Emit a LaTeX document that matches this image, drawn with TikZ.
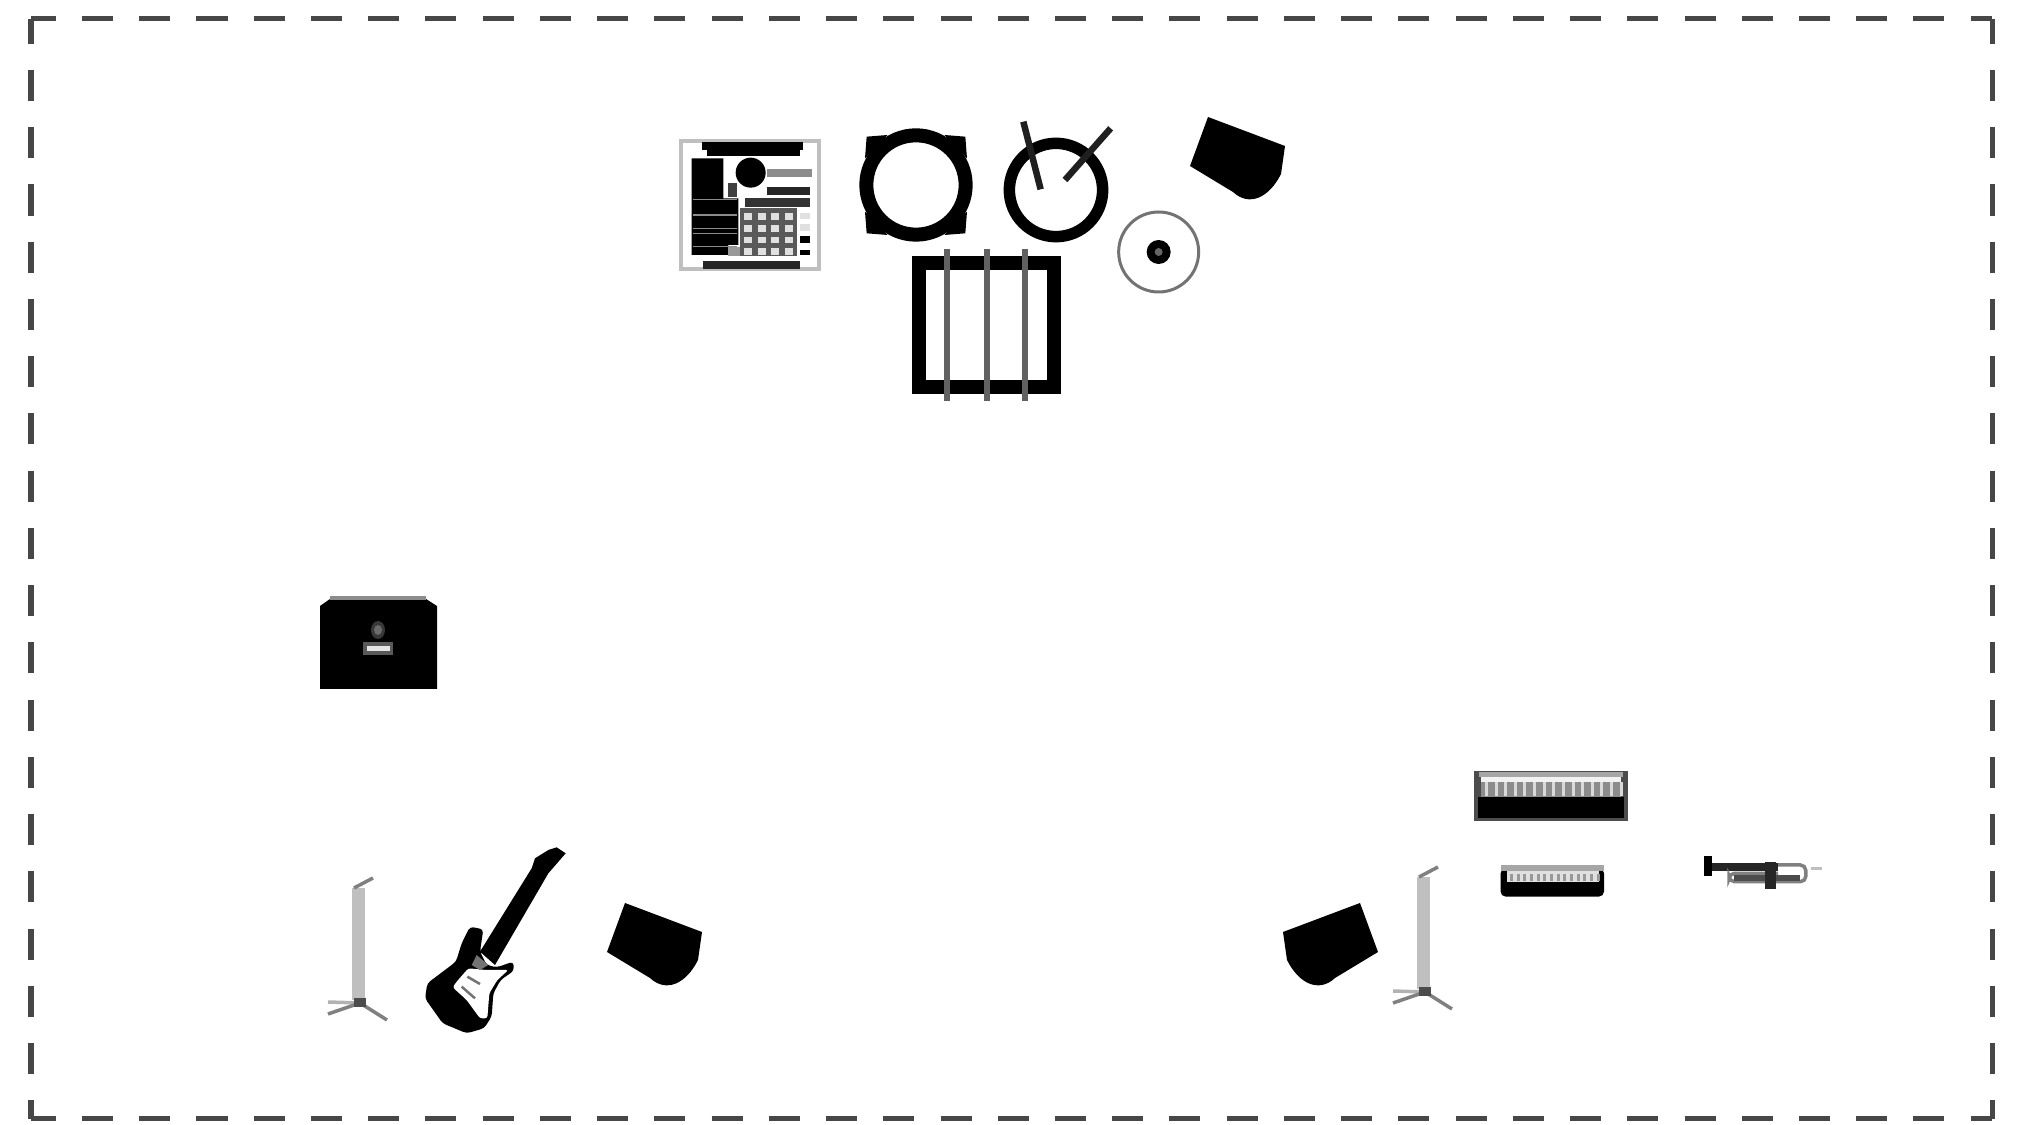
\documentclass[tikz,border=0pt]{standalone}
\tikzset{
	stageline/.style={line width=0.05cm, color=black!72, dash pattern=on 0.31cm off 0.262cm, dash phase=0.062cm},
	drumring/.style={draw=black, fill=white, line width=0.14cm},
	drumstick/.style={line width=0.065cm, color=black!88},
	keyslat/.style={line width=0.03cm},
	standleg/.style={line width=0.035cm, color=black!50},
	wedgebox/.style={fill=black}
}
\newcommand{\wedgepath}{(625,903) -- (702,932) -- (698,960) .. controls (686,984) and (666,993) .. (650,978) -- (607,952) -- cycle}
\begin{document}
\begin{tikzpicture}[x=0.01cm, y=-0.01cm]
	\useasboundingbox (0,0) rectangle (2020,1125);
	
	% Borde del escenario
	\coordinate (tl) at (31,19);
	\coordinate (tr) at (1992,19);
	\coordinate (bl) at (31,1119);
	\coordinate (br) at (1992,1119);
	\draw[stageline] (tl) -- (tr);
	\draw[stageline] (tl) -- (bl);
	\draw[stageline] (bl) -- (br);
	\draw[stageline] (tr) -- (br);
	
	% Sampler y bateria
	\begin{scope}[shift={(660,100)}, scale=1/3]
		\draw[fill=white, draw=black!25, line width=0.04cm] (64,122) rectangle (478,508);
		\fill[black] (125,125) rectangle (430,150);
		\fill[black] (140,150) rectangle (420,168);
		\fill[black!85] (130,482) rectangle (420,506);
		\fill[black] (95,175) -- (190,175) -- (190,295) -- (235,295) -- (235,435) -- (205,435) -- (205,465) -- (95,465) -- cycle;
		\foreach \py in {298,345,385,400,440}
			\draw[line width=0.012cm, color=black!45] (100,\py) -- (230,\py);
		\fill[black] (272,218) circle (45);
		\fill[black!45] (320,207) rectangle (455,230);
		\fill[black!85] (320,260) rectangle (450,285);
		\fill[black!80] (255,295) rectangle (450,322);
		\fill[black!75] (205,250) rectangle (232,292);
		\fill[black!65] (240,325) rectangle (412,468);
		\fill[black!40] (205,440) rectangle (240,468);
		\foreach \i in {0,...,3}
			\foreach \j in {0,...,3}
				\fill[black!12] ({252+\i*41},{340+\j*35}) rectangle ({276+\i*41},{360+\j*35});
		\fill[black!12] (420,340) rectangle (450,358);
		\fill[black!12] (420,372) rectangle (450,392);
		\fill[black] (420,408) rectangle (450,430);
		\fill[black] (420,450) rectangle (450,466);
		
		% Tom con herrajes
		\foreach \sx/\sy in {1/1,-1/1,1/-1,-1/-1}
			\fill[black, shift={(768,255)}] ({\sx*148},{\sy*145}) -- ({\sx*85},{\sy*150}) -- ({\sx*153},{\sy*80}) -- cycle;
		\draw[drumring] (768,255) circle (149);
		
		% Caja con baquetas
		\draw[drumring, line width=0.115cm] (1188,270) circle (140);
		\draw[drumstick] (1090,65) -- (1142,268);
		\draw[drumstick] (1352,85) -- (1215,240);
		
		% Bombo
		\draw[draw=black, fill=white, line width=0.14cm] (777,488) rectangle (1181,862);
		\foreach \px in {860,980,1095}
			\draw[line width=0.06cm, color=black!62] (\px,448) -- (\px,902);
		
		% Platillo
		\draw[line width=0.03cm, color=black!55] (1496,456) circle (120);
		\fill[black] (1496,456) circle (36);
		\fill[black!60] (1496,456) circle (12);
	\end{scope}
	
	% Monitores de piso
	\begin{scope}[shift={(583,-786)}]
		\fill[wedgebox] \wedgepath;
	\end{scope}
	\fill[wedgebox] \wedgepath;
	\begin{scope}[shift={(1985,0)}, xscale=-1]
		\fill[wedgebox] \wedgepath;
	\end{scope}
	
	% Amplificador
	\fill[black] (320,606) -- (330,599) -- (426,599) -- (437,606) -- (437,689) -- (320,689) -- cycle;
	\fill[black!45] (330,596) rectangle (426,600);
	\fill[black!78] (378,630) ellipse (7 and 9);
	\fill[black!58] (378,630) ellipse (4 and 5);
	\fill[black!65] (363,642) rectangle (393,655);
	\fill[black!10] (367,646) rectangle (390,651);
	
	% Pies de microfono
	\foreach \sx/\sy in {0/0,1065/-11} {
		\begin{scope}[shift={(\sx,\sy)}]
			\fill[black!25] (352,888) rectangle (365,1000);
			\draw[standleg] (354,888) -- (373,878);
			\draw[standleg, color=black!30] (360,1003) -- (328,1002);
			\draw[standleg] (360,1003) -- (328,1014);
			\draw[standleg] (360,1003) -- (387,1020);
			\fill[black!70] (354,998) rectangle (366,1007);
		\end{scope}
	}
	
	% Guitarra
	\begin{scope}[shift={(300,830)}, scale=1/3]
		\fill[black] (745,60) -- (770,52) -- (797,70) -- (745,130) -- (585,405) -- (540,365) -- (695,115) -- (705,85) -- cycle;
		\fill[black, rounded corners=1pt] (510,290) -- (550,298) -- (540,365) -- (560,405) -- (590,412) -- (640,395) -- (642,422) -- (602,450) -- (580,490) -- (575,560) -- (552,595) -- (500,610) -- (428,580) -- (375,505) -- (382,460) -- (468,395) -- (485,340) -- cycle;
		\fill[white, rounded corners=0.7pt] (505,415) -- (560,420) -- (625,420) -- (592,450) -- (568,490) -- (562,565) -- (540,565) -- (500,510) -- (458,472) -- (470,455) -- cycle;
		\fill[black!55] (530,375) -- (565,405) -- (540,420) -- (515,405) -- cycle;
		\draw[line width=0.025cm, color=black!55] (502,440) -- (540,462);
		\draw[line width=0.025cm, color=black!55] (485,470) -- (525,505);
	\end{scope}
	
	% Teclados y trompeta
	\begin{scope}[shift={(1260,750)}, xscale=0.37, yscale=1/3]
		\fill[black!70] (578,62) rectangle (995,212);
		\fill[black!35] (592,66) rectangle (982,82);
		\fill[black!5] (596,82) rectangle (976,96);
		\fill[black!45] (596,96) rectangle (976,140);
		\foreach \i in {0,...,14}
			\draw[keyslat, color=black!15] ({612+\i*26},96) -- ({612+\i*26},138);
		\fill[black] (590,140) rectangle (984,205);
		
		\fill[black, rounded corners=1.5pt] (650,355) rectangle (930,440);
		\fill[black!35] (650,346) rectangle (930,362);
		\fill[black!12] (668,362) rectangle (916,395);
		\foreach \i in {0,...,13}
			\draw[keyslat, color=black!40] ({680+\i*18},372) -- ({680+\i*18},394);
		
		\fill[black] (1200,318) -- (1222,318) -- (1222,378) -- (1200,378) -- cycle;
		\fill[black!85] (1222,338) rectangle (1400,362);
		\draw[line width=0.035cm, color=black!50, rounded corners=1.5pt] (1400,345) -- (1475,345) -- (1475,395) -- (1268,395) -- (1268,370) -- (1400,370);
		\fill[black!70] (1280,375) rectangle (1460,392);
		\fill[black!85] (1365,335) rectangle (1395,418);
		\draw[line width=0.025cm, color=black!25] (1490,356) -- (1520,356);
	\end{scope}
\end{tikzpicture}
\end{document}
